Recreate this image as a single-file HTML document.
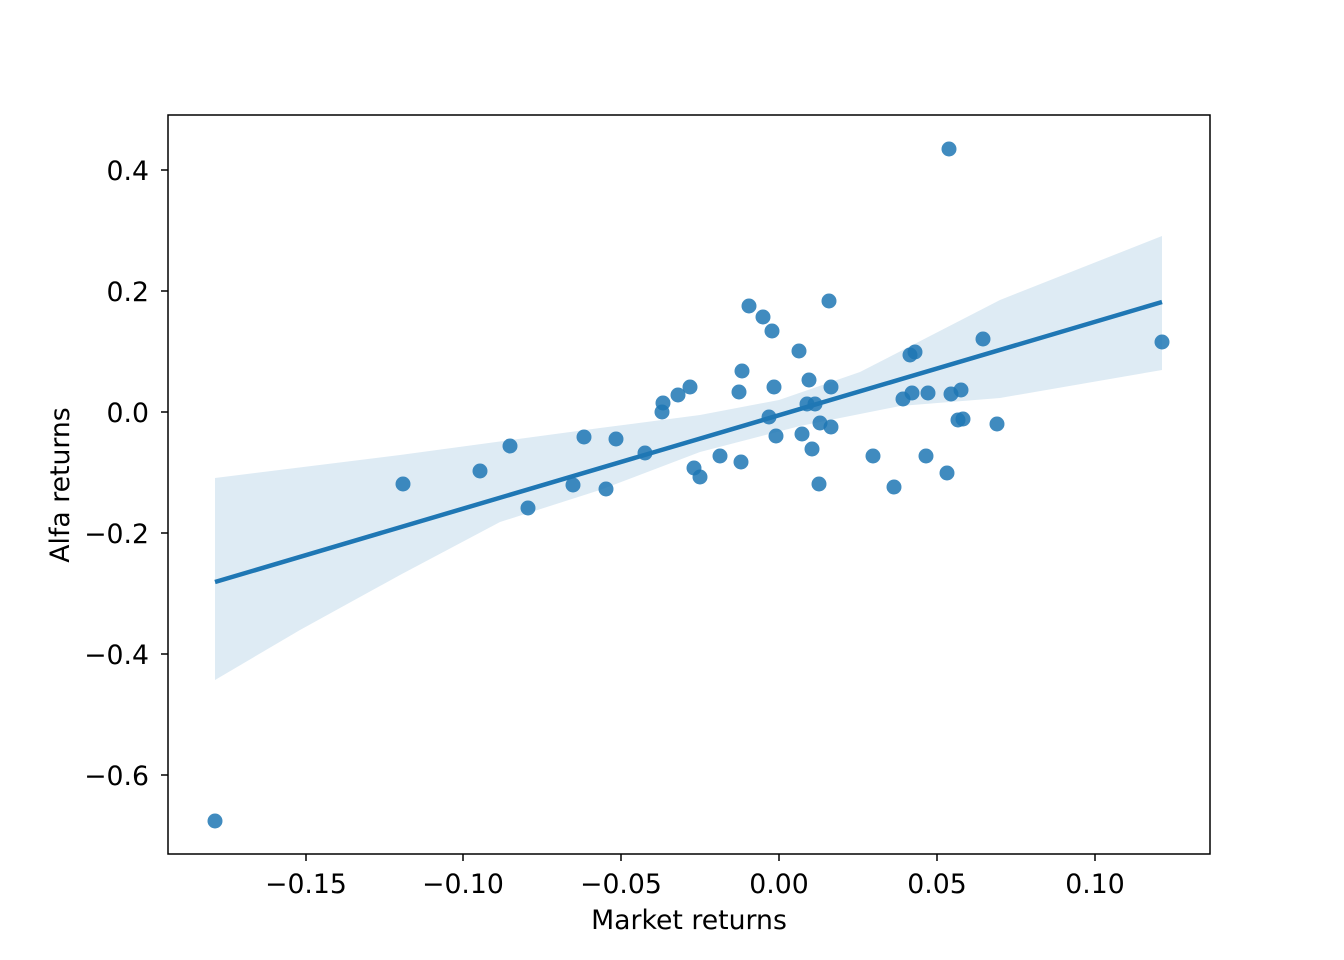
<!DOCTYPE html>
<html><head><meta charset="utf-8"><style>body{margin:0;background:#fff}svg{display:block}text{font-family:"DejaVu Sans","Liberation Sans",sans-serif;fill:#000}</style></head>
<body>
<svg width="1344" height="960" viewBox="0 0 1344 960">
<rect width="1344" height="960" fill="#fff"/>
<path d="M215,478 L400,455 L600,428 L700,415 L779,400 L860,372 L1000,300 L1162,236 L1162,370 L1000,398 L900,406 L800,426 L700,452 L600,490 L500,522 L400,575 L300,630 L215,680 Z" fill="#1f77b4" fill-opacity="0.15"/>
<g fill="#1f77b4" fill-opacity="0.85">
<circle cx="215" cy="821" r="7.5"/><circle cx="403" cy="484" r="7.5"/><circle cx="480" cy="471" r="7.5"/><circle cx="510" cy="446" r="7.5"/><circle cx="528" cy="508" r="7.5"/><circle cx="573" cy="485" r="7.5"/><circle cx="584" cy="437" r="7.5"/><circle cx="606" cy="489" r="7.5"/><circle cx="616" cy="439" r="7.5"/><circle cx="645" cy="453" r="7.5"/><circle cx="662" cy="412" r="7.5"/><circle cx="663" cy="403" r="7.5"/><circle cx="678" cy="395" r="7.5"/><circle cx="690" cy="387" r="7.5"/><circle cx="694" cy="468" r="7.5"/><circle cx="700" cy="477" r="7.5"/><circle cx="720" cy="456" r="7.5"/><circle cx="739" cy="392" r="7.5"/><circle cx="741" cy="462" r="7.5"/><circle cx="742" cy="371" r="7.5"/><circle cx="749" cy="306" r="7.5"/><circle cx="763" cy="317" r="7.5"/><circle cx="769" cy="417" r="7.5"/><circle cx="772" cy="331" r="7.5"/><circle cx="774" cy="387" r="7.5"/><circle cx="776" cy="436" r="7.5"/><circle cx="799" cy="351" r="7.5"/><circle cx="802" cy="434" r="7.5"/><circle cx="807" cy="404" r="7.5"/><circle cx="809" cy="380" r="7.5"/><circle cx="812" cy="449" r="7.5"/><circle cx="815" cy="404" r="7.5"/><circle cx="819" cy="484" r="7.5"/><circle cx="820" cy="423" r="7.5"/><circle cx="829" cy="301" r="7.5"/><circle cx="831" cy="387" r="7.5"/><circle cx="831" cy="427" r="7.5"/><circle cx="873" cy="456" r="7.5"/><circle cx="894" cy="487" r="7.5"/><circle cx="903" cy="399" r="7.5"/><circle cx="910" cy="355" r="7.5"/><circle cx="912" cy="393" r="7.5"/><circle cx="915" cy="352" r="7.5"/><circle cx="926" cy="456" r="7.5"/><circle cx="928" cy="393" r="7.5"/><circle cx="947" cy="473" r="7.5"/><circle cx="949" cy="149" r="7.5"/><circle cx="951" cy="394" r="7.5"/><circle cx="958" cy="420" r="7.5"/><circle cx="961" cy="390" r="7.5"/><circle cx="963" cy="419" r="7.5"/><circle cx="983" cy="339" r="7.5"/><circle cx="997" cy="424" r="7.5"/><circle cx="1162" cy="342" r="7.5"/>
</g>
<line x1="215" y1="582" x2="1162" y2="302" stroke="#1f77b4" stroke-width="4.5"/>
<rect x="168" y="115" width="1042" height="739" fill="none" stroke="#000" stroke-width="1.5"/>
<g stroke="#000" stroke-width="1.5">
<line x1="306" y1="854" x2="306" y2="861"/><line x1="463" y1="854" x2="463" y2="861"/><line x1="621" y1="854" x2="621" y2="861"/><line x1="779" y1="854" x2="779" y2="861"/><line x1="937" y1="854" x2="937" y2="861"/><line x1="1095" y1="854" x2="1095" y2="861"/>
<line x1="161" y1="170" x2="168" y2="170"/><line x1="161" y1="291" x2="168" y2="291"/><line x1="161" y1="412" x2="168" y2="412"/><line x1="161" y1="533" x2="168" y2="533"/><line x1="161" y1="654" x2="168" y2="654"/><line x1="161" y1="775" x2="168" y2="775"/>
</g>
<g font-size="26.7" text-anchor="middle">
<text x="306" y="893">−0.15</text><text x="463" y="893">−0.10</text><text x="621" y="893">−0.05</text><text x="779" y="893">0.00</text><text x="937" y="893">0.05</text><text x="1095" y="893">0.10</text>
<text x="689" y="929">Market returns</text>
</g>
<g font-size="26.7" text-anchor="end">
<text x="149" y="180">0.4</text><text x="149" y="301">0.2</text><text x="149" y="422">0.0</text><text x="149" y="543">−0.2</text><text x="149" y="664">−0.4</text><text x="149" y="785">−0.6</text>
</g>
<text font-size="26.7" text-anchor="middle" transform="translate(69,485) rotate(-90)">Alfa returns</text>
</svg>
</body></html>
